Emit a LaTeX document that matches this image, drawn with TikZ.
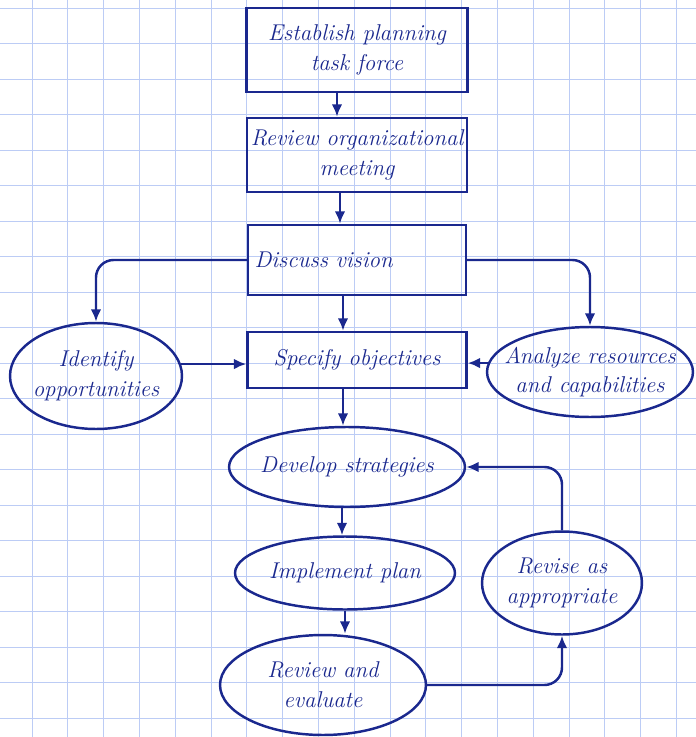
\documentclass[tikz,border=0pt]{standalone}
\usetikzlibrary{shapes.geometric,arrows.meta}
\definecolor{ink}{RGB}{26,40,142}
\definecolor{gridblue}{RGB}{188,204,245}
\tikzstyle{handtext} = [text=ink, font=\fontsize{13}{17}\selectfont\itshape, align=center]
\tikzstyle{stage} = [draw=ink, line width=1.4pt, inner sep=2pt, handtext]
\tikzstyle{phase} = [ellipse, draw=ink, line width=1.4pt, inner sep=0pt]
\tikzstyle{link} = [draw=ink, line width=1.4pt, rounded corners=10pt, -{Latex[length=7pt,width=6pt]}]
\tikzstyle{paper} = [gridblue, line width=0.5pt]

\begin{document}
\begin{tikzpicture}[x=0.02cm, y=-0.02cm]
\useasboundingbox (0,0) rectangle (696,737);
\fill[white] (0,0) rectangle (696,737);
% squared paper
\foreach \gx in {0,...,18}
	\draw[paper] ({32+35.8*\gx},0) -- ({32+35.8*\gx},737);
\foreach \gy in {0,...,20}
	\draw[paper] (0,{8+35.5*\gy}) -- (696,{8+35.5*\gy});

% boxes
\node[stage, minimum width=4.42cm, minimum height=1.68cm] (taskforce) at (357,50)
	{Establish planning\\task force};
\node[stage, minimum width=4.4cm, minimum height=1.48cm] (orgmeeting) at (357,155)
	{Review organizational\\meeting};
\node[stage, minimum width=4.36cm, minimum height=1.4cm, text width=4.1cm, align=left] (vision) at (357,260)
	{Discuss vision\\[4pt]};
\node[stage, minimum width=4.38cm, minimum height=1.12cm] (objectives) at (357,360)
	{Specify objectives};

% ovals
\node[phase, minimum width=3.44cm, minimum height=2.12cm,
	label={[handtext]center:Identify\\opportunities}] (opportunities) at (96,376) {};
\node[phase, minimum width=4.12cm, minimum height=1.8cm,
	label={[handtext]center:Analyze resources\\and capabilities}] (resources) at (590,372) {};
\node[phase, minimum width=4.72cm, minimum height=1.6cm,
	label={[handtext]center:Develop strategies}] (strategies) at (347,467) {};
\node[phase, minimum width=4.4cm, minimum height=1.46cm,
	label={[handtext]center:Implement plan}] (implement) at (345,573) {};
\node[phase, minimum width=4.12cm, minimum height=2cm,
	label={[handtext]center:Review and\\evaluate}] (evaluate) at (323,685) {};
\node[phase, minimum width=3.2cm, minimum height=2.06cm,
	label={[handtext]center:Revise as\\appropriate}] (revise) at (562,583) {};

% connectors
\draw[link] ([xshift=-0.4cm]taskforce.south) -- ([xshift=-0.4cm]orgmeeting.north);
\draw[link] ([xshift=-0.34cm]orgmeeting.south) -- ([xshift=-0.34cm]vision.north);
\draw[link] ([xshift=-0.28cm]vision.south) -- ([xshift=-0.28cm]objectives.north);
\draw[link] (vision.west) -| (opportunities.north);
\draw[link] (vision.east) -| (resources.north);
\draw[link] (opportunities.8) -- (opportunities.8 -| objectives.west);
\draw[link] (resources.175) -- (resources.175 -| objectives.east);
\draw[link] ([xshift=-0.28cm]objectives.south) -- ([xshift=-0.28cm]objectives.south |- strategies.north);
\draw[link] ([xshift=-0.1cm]strategies.south) -- ([xshift=-0.1cm]strategies.south |- implement.north);
\draw[link] (implement.south) -- (implement.south |- evaluate.north);
\draw[link] (evaluate.east) -| (revise.south);
\draw[link] (revise.north) |- (strategies.east);
\end{tikzpicture}
\end{document}
